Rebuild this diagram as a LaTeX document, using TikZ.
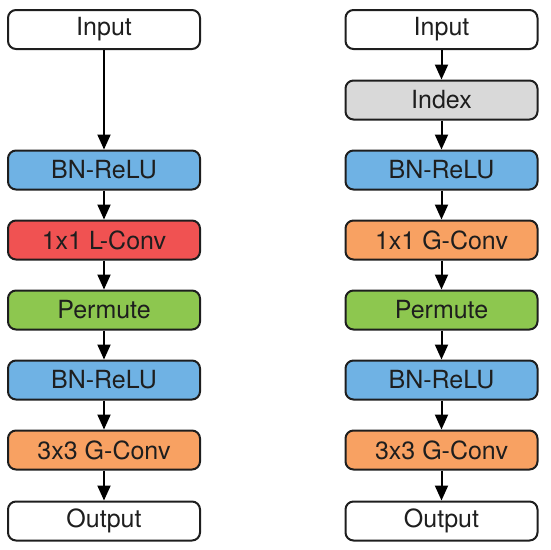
\documentclass[tikz,border=0pt]{standalone}
\usepackage{fontspec}
\setmainfont{TeX Gyre Heros}
\usetikzlibrary{arrows.meta}

\definecolor{bnblue}{HTML}{6FB2E4}
\definecolor{lconvred}{HTML}{F05252}
\definecolor{permgreen}{HTML}{8DC74F}
\definecolor{gconvorange}{HTML}{F8A162}
\definecolor{indexgray}{HTML}{D9D9D9}
\definecolor{edgedark}{HTML}{1E1E1E}

\begin{document}
\begin{tikzpicture}[x=1pt,y=-1pt,
  layer/.style={draw=edgedark, line width=2pt, rounded corners=8pt,
    minimum width=192pt, minimum height=39pt, inner sep=0pt,
    text=edgedark, font=\fontsize{25}{29}\selectfont},
  flow/.style={-{Triangle[length=15pt,width=13pt]}, line width=2pt, draw=black}
]
\useasboundingbox (0,0) rectangle (550,550);

% left column
\node[layer, fill=white] (inL) at (104,29.5) {Input};
\node[layer, fill=bnblue] (bnL1) at (104,170) {BN-ReLU};
\node[layer, fill=lconvred] (lconv) at (104,240) {1x1 L-Conv};
\node[layer, fill=permgreen] (permL) at (104,310) {Permute};
\node[layer, fill=bnblue] (bnL2) at (104,380) {BN-ReLU};
\node[layer, fill=gconvorange] (gconvL) at (104,450) {3x3 G-Conv};
\node[layer, fill=white] (outL) at (104,521) {Output};

% right column
\node[layer, fill=white] (inR) at (441.5,29.5) {Input};
\node[layer, fill=indexgray] (index) at (441.5,100) {Index};
\node[layer, fill=bnblue] (bnR1) at (441.5,170) {BN-ReLU};
\node[layer, fill=gconvorange] (gconv1) at (441.5,240) {1x1 G-Conv};
\node[layer, fill=permgreen] (permR) at (441.5,310) {Permute};
\node[layer, fill=bnblue] (bnR2) at (441.5,380) {BN-ReLU};
\node[layer, fill=gconvorange] (gconvR) at (441.5,450) {3x3 G-Conv};
\node[layer, fill=white] (outR) at (441.5,521) {Output};

\draw[flow] (inL) -- (bnL1);
\draw[flow] (bnL1) -- (lconv);
\draw[flow] (lconv) -- (permL);
\draw[flow] (permL) -- (bnL2);
\draw[flow] (bnL2) -- (gconvL);
\draw[flow] (gconvL) -- (outL);

\draw[flow] (inR) -- (index);
\draw[flow] (index) -- (bnR1);
\draw[flow] (bnR1) -- (gconv1);
\draw[flow] (gconv1) -- (permR);
\draw[flow] (permR) -- (bnR2);
\draw[flow] (bnR2) -- (gconvR);
\draw[flow] (gconvR) -- (outR);
\end{tikzpicture}
\end{document}
